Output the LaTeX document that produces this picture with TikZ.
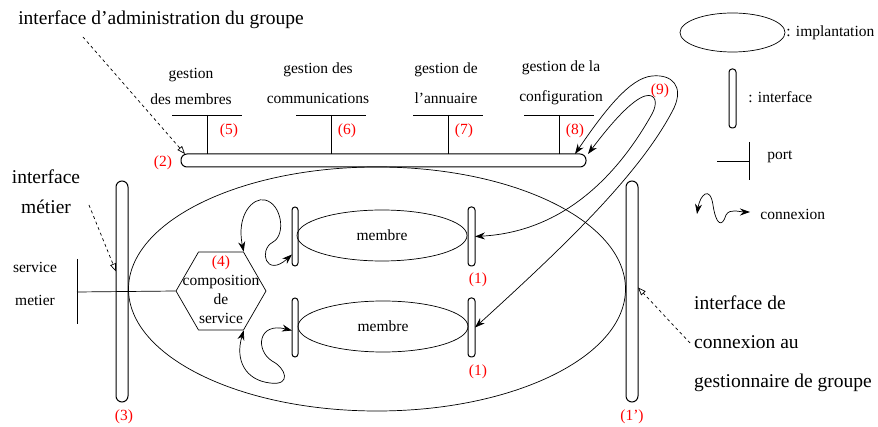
\documentclass[tikz,border=0pt]{standalone}
\usepackage{fontspec}
\setmainfont{Liberation Serif}
\usetikzlibrary{shapes.geometric,arrows.meta}

\begin{document}
\begin{tikzpicture}[x=1pt,y=-1pt,line width=0.7pt,
    small/.style={font=\fontsize{15.5}{19}\selectfont},
    big/.style={font=\fontsize{19.5}{30}\selectfont},
    gest/.style={align=center,font=\fontsize{15.5}{30}\selectfont},
    num/.style={small,text=red},
    iface/.style={draw,rectangle,rounded corners=3pt,line width=1pt,inner sep=0pt,outer sep=0pt},
    impl/.style={draw,ellipse,inner sep=0pt,outer sep=0pt},
    conn/.style={{Stealth[length=10pt,width=7pt]}-{Stealth[length=10pt,width=7pt]}},
    note/.style={dashed,-{Triangle[open,length=8pt,width=6pt]}}]
    \useasboundingbox (0,0) rectangle (878,427);

    % Implantation of the group
    \node[impl,minimum width=497pt,minimum height=244pt] (grp) at (377,289) {};

    % Interfaces of the group
    \node[iface,rounded corners=6pt,minimum width=405pt,minimum height=13pt] (adm) at (383.5,160.5) {};
    \node[iface,rounded corners=6pt,minimum width=12pt,minimum height=221pt] (met) at (122,291.5) {};
    \node[iface,rounded corners=6pt,minimum width=12pt,minimum height=221pt] (cnx) at (632,291.5) {};
    \node[num] (n2) at (163,163) {(2)};
    \node[num] (n3) at (124,417) {(3)};
    \node[num] (n1p) at (632,417) {(1')};

    % Ports of the administration interface
    \foreach \x/\n/\d in {207/5/22,331/6/16,448/7/16,559/8/16} {
        \draw (\x-35,115) -- (\x+35,115); % port
        \draw (\x,115) -- (\x,0 |- adm.north);
        \node[num] (n\n) at (\x+\d,131) {(\n)};
    }
    \node[gest,font=\fontsize{15.5}{26}\selectfont] (g5) at (191,86) {gestion\\des membres};
    \node[gest] (g6) at (318,83) {gestion des\\communications};
    \node[gest] (g7) at (446,83) {gestion de\\l'annuaire};
    \node[gest] (g8) at (561,83) {gestion de la\\configuration};

    % Members
    \node[impl,small,minimum width=170pt,minimum height=51pt] (mb1) at (382,235.5) {membre};
    \node[impl,small,minimum width=170pt,minimum height=51pt] (mb2) at (383,326.5) {membre};
    \node[iface,minimum width=6pt,minimum height=59pt] (mb1l) at (295,236.5) {};
    \node[iface,minimum width=7pt,minimum height=59pt] (mb1r) at (471.5,236.5) {};
    \node[iface,minimum width=6pt,minimum height=59pt] (mb2l) at (295,327.5) {};
    \node[iface,minimum width=7pt,minimum height=59pt] (mb2r) at (471.5,327.5) {};
    \node[num] (n1a) at (478,280) {(1)};
    \node[num] (n1b) at (478,372) {(1)};

    % Composition of service
    \node[draw,regular polygon,regular polygon sides=6,minimum size=90pt,inner sep=0pt] (comp) at (221,291) {};
    \node[small,align=center] (comptxt) at (221,290) {\textcolor{red}{(4)}\\composition\\de\\service};

    % Service metier port
    \coordinate (sm) at (77,292);
    \draw ([yshift=33pt]sm) -- ([yshift=-32pt]sm);
    \draw (sm) -- (comp.west);
    \node[align=center,font=\fontsize{15.5}{33}\selectfont] (tsm) at (35,284) {service\\metier};

    % Connexions
    \draw[conn] (comp.60) .. controls (236,215) and (253,197) .. (265,200)
        .. controls (282,204) and (286,235) .. (273,242)
        .. controls (258,250) and (266,278) .. ([yshift=-18pt]mb1l.west);
    \draw[conn] (comp.300) .. controls (235,360) and (245,380) .. (270,383)
        .. controls (292,386) and (286,368) .. (272,361)
        .. controls (255,350) and (258,322) .. ([yshift=-3pt]mb2l.west);
    \draw[conn] (575,0 |- adm.north) .. controls (605,110) and (630,78) .. (652,76)
        .. controls (672,74) and (684,86) .. (674,108)
        .. controls (640,175) and (560,250) .. (mb2r.east);
    \draw[conn] (588,0 |- adm.north) .. controls (612,122) and (632,100) .. (645,96)
        .. controls (656,93) and (658,103) .. (652,114)
        .. controls (615,180) and (560,232) .. (mb1r.east);
    \node[num] (n9) at (660,91) {(9)};

    % Annotations
    \node[big] (tadm) at (161,20) {interface d'administration du groupe};
    \node[big,align=center] (tmet) at (46,192) {interface\\métier};
    \node[big,align=left,anchor=west,font=\fontsize{19.5}{39}\selectfont] (tcnx) at (690.5,344) {interface de\\connexion au\\gestionnaire de groupe};
    \coordinate (a1) at (83,37);
    \coordinate (a2) at (89,205);
    \coordinate (a3) at (690,343);
    \draw[note] (a1) -- ([xshift=4pt]adm.north west);
    \draw[note] (a2) -- ([yshift=20pt]met.west);
    \draw[note] (a3) -- ([yshift=4pt]cnx.east);

    % Legend
    \node[impl,minimum width=105pt,minimum height=39pt] (lgimpl) at (732.5,32.5) {};
    \node[small,anchor=west] (lgimpltxt) at (782.8,33) {: implantation};
    \node[iface,minimum width=7pt,minimum height=59pt] (lgif) at (732.5,98.5) {};
    \node[small,anchor=west] (lgiftxt) at (744.8,97) {: interface};
    \coordinate (lgport) at (749,161);
    \draw (717,161) -- (lgport);
    \draw ([yshift=19pt]lgport) -- ([yshift=-19pt]lgport);
    \node[small,anchor=west] (lgporttxt) at (763.8,157) {port};
    \coordinate (lgc1) at (697,214);
    \coordinate (lgc2) at (750,212);
    \draw[conn] (lgc1) .. controls (700,195) and (710,185) .. (713,205)
        .. controls (716,225) and (722,228) .. (726,215)
        .. controls (730,208) and (740,212) .. (lgc2);
    \node[small,anchor=west] (lgctxt) at (756.8,214) {connexion};
\end{tikzpicture}
\end{document}
